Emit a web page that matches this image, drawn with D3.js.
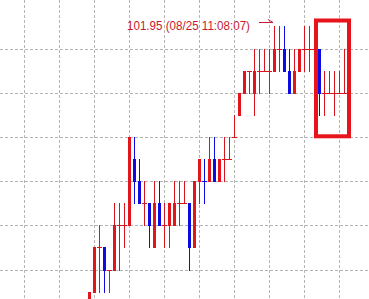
<!DOCTYPE html>
<html>
<head>
<meta charset="utf-8">
<script src="https://cdn.jsdelivr.net/npm/d3@7"></script>
<style>
html,body{margin:0;padding:0;background:#fff;overflow:hidden;}
svg{display:block;}
</style>
</head>
<body>
<svg id="chart" width="369" height="299"></svg>
<script>
// ---- data (USD/JPY tick candles) ----
const candleIndex = d3.range(52);
const opens  = [101.82,101.83,101.85,101.85,101.84,101.84,101.86,101.86,101.86,101.89,
                101.88,101.87,101.87,101.85,101.87,101.86,101.86,101.86,101.87,101.87,
                101.87,101.85,101.88,101.88,101.88,101.89,101.88,101.89,101.89,101.90,
                101.91,101.92,101.93,101.92,101.93,101.93,101.93,101.93,101.94,101.94,
                101.93,101.92,101.93,101.94,101.94,101.94,101.94,101.92,101.92,101.92,
                101.92,101.92];
const highs  = [101.83,101.85,101.86,101.85,101.84,101.87,101.87,101.87,101.90,101.90,
                101.89,101.88,101.87,101.88,101.88,101.87,101.87,101.88,101.88,101.88,
                101.87,101.88,101.89,101.89,101.90,101.90,101.89,101.90,101.90,101.91,
                101.92,101.93,101.93,101.94,101.94,101.94,101.94,101.95,101.95,101.95,
                101.94,101.94,101.94,101.95,101.95,101.94,101.94,101.93,101.93,101.93,
                101.93,101.94];
const lows   = [101.82,101.83,101.83,101.83,101.83,101.84,101.84,101.85,101.86,101.87,
                101.87,101.86,101.85,101.85,101.86,101.85,101.85,101.86,101.86,101.87,
                101.84,101.85,101.87,101.87,101.88,101.88,101.88,101.88,101.89,101.90,
                101.91,101.92,101.92,101.91,101.92,101.93,101.92,101.93,101.93,101.93,
                101.92,101.92,101.93,101.93,101.93,101.94,101.91,101.91,101.92,101.91,
                101.92,101.92];
const closes = [101.83,101.85,101.85,101.84,101.84,101.86,101.86,101.86,101.90,101.88,
                101.87,101.87,101.86,101.87,101.86,101.86,101.87,101.87,101.87,101.87,
                101.85,101.88,101.89,101.88,101.89,101.88,101.89,101.89,101.89,101.90,
                101.92,101.93,101.93,101.93,101.93,101.93,101.93,101.94,101.94,101.93,
                101.92,101.93,101.94,101.94,101.94,101.94,101.92,101.92,101.92,101.92,
                101.92,101.92];
const priceGridTicks = [101.84,101.86,101.88,101.90,101.92,101.94];
const timeGridTicks = [-13,-6,1,8,15,22,29,36,43,50];
const annotationIndex = 37;
const annotationLabel = "101.95 (08/25 11:08:07)";
const boxRange = {startIndex: 45, endIndex: 52, top: 101.9538, bottom: 101.8996};

// ---- drawing ----
const W = 369, H = 299;
const RED = "#e3141c", WICK_RED = "#d8141c", BLUE = "#0b0be6";
const svg = d3.select("#chart");
const x = d3.scaleLinear().domain([0, 51]).range([89.5, 344.5]);
const y = d3.scaleLinear().domain([101.84, 101.94]).range([270, 49]);
const py = v => Math.floor(y(v));

const data = candleIndex.map(i => ({
  i, o: opens[i], h: highs[i], l: lows[i], c: closes[i],
  prev: i > 0 ? closes[i-1] : opens[i]
}));
function colorOf(d) {
  if (d.c > d.o) return RED;
  if (d.c < d.o) return BLUE;
  return d.c < d.prev ? BLUE : RED;
}

// grid
const grid = svg.append("g").attr("stroke", "#b4b4b4").attr("stroke-width", 1)
  .attr("stroke-dasharray", "3,2").attr("fill", "none");
grid.selectAll("line.h").data(priceGridTicks).join("line").attr("class","h")
  .attr("x1", 0).attr("x2", W)
  .attr("y1", d => py(d) + 0.5).attr("y2", d => py(d) + 0.5);
grid.selectAll("line.v").data(timeGridTicks).join("line").attr("class","v")
  .attr("x1", d => x(d)).attr("x2", d => x(d))
  .attr("y1", 0).attr("y2", H);

// candles
const g = svg.append("g").attr("shape-rendering", "crispEdges");
// wicks
g.selectAll("rect.wick").data(data).join("rect").attr("class","wick")
  .attr("x", d => x(d.i) - 0.5).attr("width", 1)
  .attr("y", d => py(d.h))
  .attr("height", d => py(d.l) - py(d.h) + 1)
  .attr("fill", d => colorOf(d) === RED ? WICK_RED : BLUE);
// bodies
g.selectAll("rect.body").data(data.filter(d => d.o !== d.c)).join("rect").attr("class","body")
  .attr("x", d => x(d.i) - 1.5).attr("width", 3)
  .attr("y", d => py(Math.max(d.o, d.c)))
  .attr("height", d => py(Math.min(d.o, d.c)) - py(Math.max(d.o, d.c)) + 1)
  .attr("fill", colorOf);
// doji ticks
g.selectAll("rect.doji").data(data.filter(d => d.o === d.c)).join("rect").attr("class","doji")
  .attr("x", d => x(d.i) - 2.5).attr("width", 5)
  .attr("y", d => py(d.o)).attr("height", 1)
  .attr("fill", d => colorOf(d) === RED ? WICK_RED : BLUE);

// highlight box
const bx0 = x(boxRange.startIndex) - 0.5, bx1 = x(boxRange.endIndex) + 1.5;
const by0 = y(boxRange.top), by1 = y(boxRange.bottom);
svg.append("rect")
  .attr("x", bx0 + 2).attr("y", by0 + 2)
  .attr("width", bx1 - bx0 - 4).attr("height", by1 - by0 - 4)
  .attr("fill", "none").attr("stroke", "#e8141c").attr("stroke-width", 4);

// annotation
const ax = x(annotationIndex) - 1.5, ay = py(highs[annotationIndex]) - 3.5;
svg.append("path")
  .attr("d", `M${ax - 14},${ay} L${ax},${ay} M${ax - 5},${ay - 3} L${ax},${ay}`)
  .attr("stroke", "#c81830").attr("stroke-width", 1).attr("fill", "none");
svg.append("text")
  .attr("x", ax - 146).attr("y", 30)
  .attr("font-family", "'Liberation Sans', Arial, sans-serif")
  .attr("font-size", 13)
  .attr("textLength", 123).attr("lengthAdjust", "spacingAndGlyphs")
  .attr("fill", "#c81830")
  .text(annotationLabel);
</script>
</body>
</html>
